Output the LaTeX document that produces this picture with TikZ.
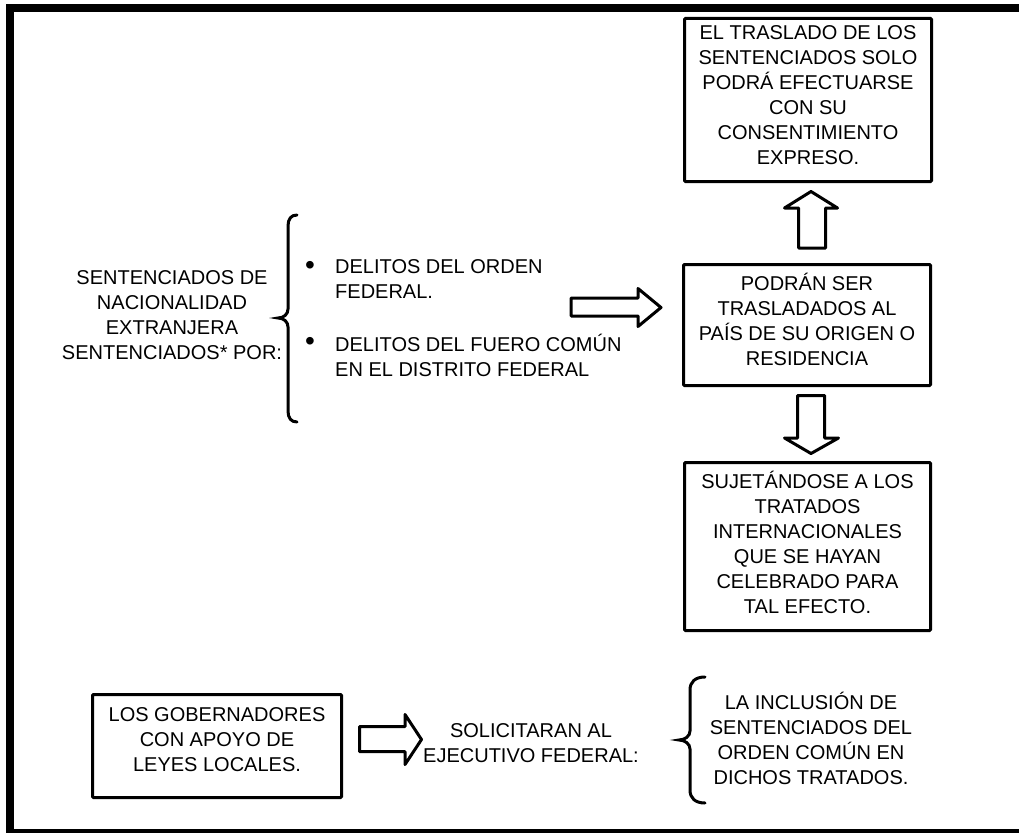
\documentclass[tikz,border=0pt]{standalone}
\usepackage{fontspec}
\setmainfont{Liberation Sans}
\begin{document}
\begin{tikzpicture}[x=1pt,y=-1pt,
  box/.style={draw,line width=3pt,rounded corners=1pt,inner sep=0pt},
  txt/.style={align=center,inner sep=0pt,font=\fontsize{20}{25}\selectfont},
  ltxt/.style={align=left,inner sep=0pt,font=\fontsize{20}{25}\selectfont},
  bul/.style={inner sep=0pt,font=\fontsize{28}{28}\selectfont},
  blk/.style={draw,line width=3pt,line join=round,fill=white},
  brc/.style={draw,line width=3pt,line cap=round}]
\useasboundingbox (0,0) rectangle (1019,832);
\begin{scope}
\clip (0,0) rectangle (1019,832);
\draw[line width=8pt] (10,8) rectangle (1040,833);
\end{scope}

% right column boxes
\node[box,minimum width=247pt,minimum height=163pt] (b1) at (808,100) {};
\node[txt] (t1) at (808,95) {EL TRASLADO DE LOS\\SENTENCIADOS SOLO\\PODRÁ EFECTUARSE\\CON SU\\CONSENTIMIENTO\\EXPRESO.};

\node[box,minimum width=247pt,minimum height=121pt] (b2) at (807,325) {};
\node[txt] (t2) at (807,319.5) {PODRÁN SER\\TRASLADADOS AL\\PAÍS DE SU ORIGEN O\\RESIDENCIA};

\node[box,minimum width=246pt,minimum height=168pt] (b3) at (807.5,546.5) {};
\node[txt] (t3) at (807.5,542.5) {SUJETÁNDOSE A LOS\\TRATADOS\\INTERNACIONALES\\QUE SE HAYAN\\CELEBRADO PARA\\TAL EFECTO.};

% left group
\node[txt] (l1) at (172,315) {SENTENCIADOS DE\\NACIONALIDAD\\EXTRANJERA\\SENTENCIADOS* POR:};
\draw[brc] (297,215) .. controls (291,215) and (288,219) .. (288,226) -- (288,309)
  .. controls (288,314) and (284,318) .. (278,318)
  .. controls (284,318) and (288,322) .. (288,327) -- (288,411)
  .. controls (288,418) and (291,422) .. (297,422);
\node[bul] (d1) at (310,268) {•};
\node[bul] (d2) at (310,344) {•};
\node[ltxt,anchor=west] (i1) at (335,279.5) {DELITOS DEL ORDEN\\FEDERAL.};
\node[ltxt,anchor=west] (i2) at (335,355.5) {DELITOS DEL FUERO COMÚN\\EN EL DISTRITO FEDERAL};

% block arrows
\draw[blk] (571,298) -- (638,298) -- (638,288.5) -- (661,307.5) -- (638,326.5) -- (638,316) -- (571,316) -- cycle;
\draw[blk] (798.5,248) -- (798.5,208) -- (784.5,208) -- (811,191.5) -- (837.5,208) -- (825.5,208) -- (825.5,248) -- cycle;
\draw[blk] (797.5,395.5) -- (824.5,395.5) -- (824.5,438) -- (838.5,438) -- (811,453.5) -- (784.5,438) -- (797.5,438) -- cycle;

% bottom row
\node[box,minimum width=249pt,minimum height=103pt] (b4) at (217,746) {};
\node[txt] (t4) at (217,740) {LOS GOBERNADORES\\CON APOYO DE\\LEYES LOCALES.};
\draw[blk] (359.5,726.5) -- (405,726.5) -- (405,714.5) -- (421.5,739.5) -- (405,764.5) -- (405,751.5) -- (359.5,751.5) -- cycle;
\node[txt] (t5) at (531,743) {SOLICITARAN AL\\EJECUTIVO FEDERAL:};
\draw[brc] (705,677) .. controls (695,677) and (690,682) .. (690,690) -- (690,731)
  .. controls (690,736) and (685,740) .. (679,740)
  .. controls (685,740) and (690,744) .. (690,749) -- (690,790)
  .. controls (690,798) and (695,803) .. (705,803);
\node[txt] (t6) at (811,738.5) {LA INCLUSIÓN DE\\SENTENCIADOS DEL\\ORDEN COMÚN EN\\DICHOS TRATADOS.};
\end{tikzpicture}
\end{document}
